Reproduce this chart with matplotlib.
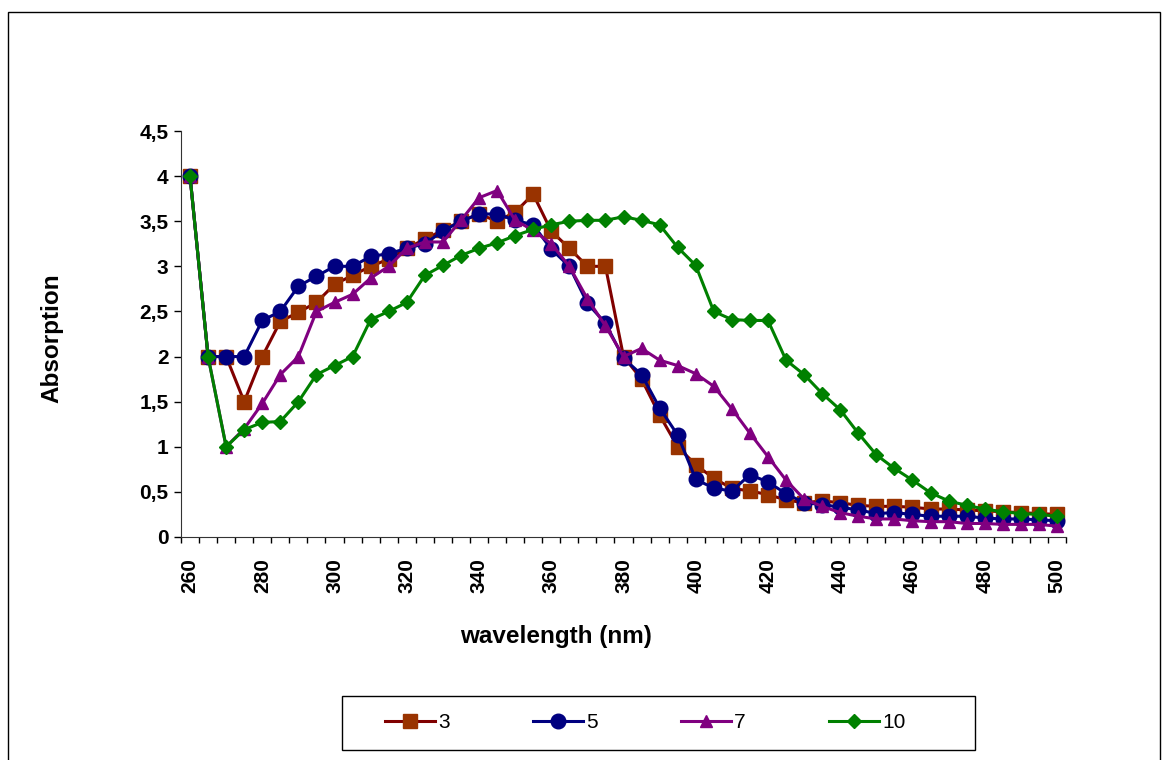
import matplotlib
matplotlib.use("Agg")
import matplotlib.pyplot as plt
from matplotlib.patches import Rectangle
import numpy as np

plt.rcParams['font.family'] = ['Liberation Sans', 'DejaVu Sans']

# wavelength categories (nm)
wavelength = list(range(260, 505, 5))

abs_3 = [4.0, 2.0, 2.0, 1.5, 2.0, 2.39, 2.49, 2.6, 2.8, 2.9,
         3.0, 3.08, 3.2, 3.3, 3.4, 3.5, 3.58, 3.5, 3.6, 3.8,
         3.39, 3.2, 3.0, 3.0, 2.0, 1.75, 1.35, 1.0, 0.8, 0.65,
         0.54, 0.51, 0.47, 0.41, 0.38, 0.4, 0.38, 0.35, 0.34, 0.34,
         0.33, 0.31, 0.31, 0.3, 0.29, 0.28, 0.27, 0.26, 0.25]
abs_5 = [4.0, 2.0, 2.0, 2.0, 2.4, 2.5, 2.78, 2.89, 3.0, 3.0,
         3.11, 3.14, 3.2, 3.25, 3.39, 3.5, 3.58, 3.58, 3.51, 3.46,
         3.19, 3.0, 2.59, 2.37, 1.98, 1.8, 1.43, 1.13, 0.64, 0.54,
         0.51, 0.69, 0.61, 0.48, 0.38, 0.36, 0.33, 0.3, 0.26, 0.27,
         0.25, 0.23, 0.23, 0.23, 0.21, 0.2, 0.2, 0.19, 0.18]
abs_7 = [4.0, 2.0, 1.0, 1.2, 1.48, 1.8, 2.0, 2.5, 2.6, 2.69,
         2.87, 3.0, 3.2, 3.27, 3.27, 3.51, 3.76, 3.84, 3.51, 3.4,
         3.25, 3.0, 2.64, 2.34, 2.0, 2.09, 1.96, 1.9, 1.81, 1.67,
         1.42, 1.15, 0.89, 0.63, 0.42, 0.34, 0.27, 0.23, 0.2, 0.2,
         0.18, 0.17, 0.17, 0.15, 0.15, 0.14, 0.14, 0.14, 0.12]
abs_10 = [4.0, 2.0, 1.0, 1.19, 1.27, 1.28, 1.5, 1.8, 1.9, 2.0,
          2.41, 2.5, 2.6, 2.9, 3.01, 3.12, 3.2, 3.26, 3.34, 3.41,
          3.46, 3.5, 3.51, 3.51, 3.55, 3.51, 3.46, 3.21, 3.01, 2.5,
          2.41, 2.4, 2.4, 1.96, 1.8, 1.59, 1.41, 1.15, 0.91, 0.76,
          0.63, 0.49, 0.4, 0.35, 0.31, 0.28, 0.26, 0.25, 0.23]

series_labels = ['3', '5', '7', '10']
y_ticks = [0, 0.5, 1, 1.5, 2, 2.5, 3, 3.5, 4, 4.5]

W, H = 1162, 760
fig = plt.figure(figsize=(W / 100, H / 100), dpi=100)
ax = fig.add_axes([181 / W, 1 - 537 / H, (1066 - 181) / W, (537 - 131) / H])

x = np.arange(len(wavelength))
styles = [
    dict(color='#800000', marker='s', mfc='#993300', mec='#993300', ms=10.5),
    dict(color='#000080', marker='o', mfc='#000080', mec='#000080', ms=10.5),
    dict(color='#800080', marker='^', mfc='#800080', mec='#800080', ms=9),
    dict(color='#008000', marker='D', mfc='#008000', mec='#008000', ms=7),
]
for vals, lab, st in zip([abs_3, abs_5, abs_7, abs_10], series_labels, styles):
    ax.plot(x, vals, lw=2.2, label=lab, **st)

ax.set_xlim(-0.5, len(wavelength) - 0.5)
ax.set_ylim(0, 4.5)

ax.set_xticks(x[::4])
ax.set_xticklabels([str(w) for w in wavelength[::4]], rotation=90,
                   fontsize=15, fontweight='bold')
ax.set_xticks(np.arange(-0.5, len(wavelength), 1), minor=True)
ax.tick_params(axis='x', which='major', length=0, pad=15)
ax.tick_params(axis='x', which='minor', length=4, width=1, direction='out')

ax.set_yticks(y_ticks)
ax.set_yticklabels([('%g' % v).replace('.', ',') for v in y_ticks],
                   fontsize=15, fontweight='bold')
ax.tick_params(axis='y', length=5, width=1, direction='out', pad=4)

for s in ['top', 'right']:
    ax.spines[s].set_visible(False)
for s in ['left', 'bottom']:
    ax.spines[s].set_color('#333333')

fig.text(556 / W, 1 - 637 / H, 'wavelength (nm)', ha='center', va='center',
         fontsize=17.5, fontweight='bold')
fig.text(52 / W, 1 - 338 / H, 'Absorption', ha='center', va='center',
         rotation=90, fontsize=17.5, fontweight='bold')

# legend box and outer chart border
fig.patches.append(Rectangle((342 / W, 1 - 750 / H), (975 - 342) / W, 54 / H,
                             transform=fig.transFigure, fill=False,
                             edgecolor='black', lw=1))
fig.patches.append(Rectangle((8 / W, -0.05), (1160 - 8) / W, 1.05 - 12 / H,
                             transform=fig.transFigure, fill=False,
                             edgecolor='black', lw=1))

fig.legend(loc='center left', bbox_to_anchor=(385 / W, 1 - 723 / H), ncol=4,
           frameon=False, fontsize=15, handlelength=2.4, handletextpad=0.15,
           columnspacing=4.0, borderpad=0, borderaxespad=0)

fig.savefig('out.png', dpi=100)
